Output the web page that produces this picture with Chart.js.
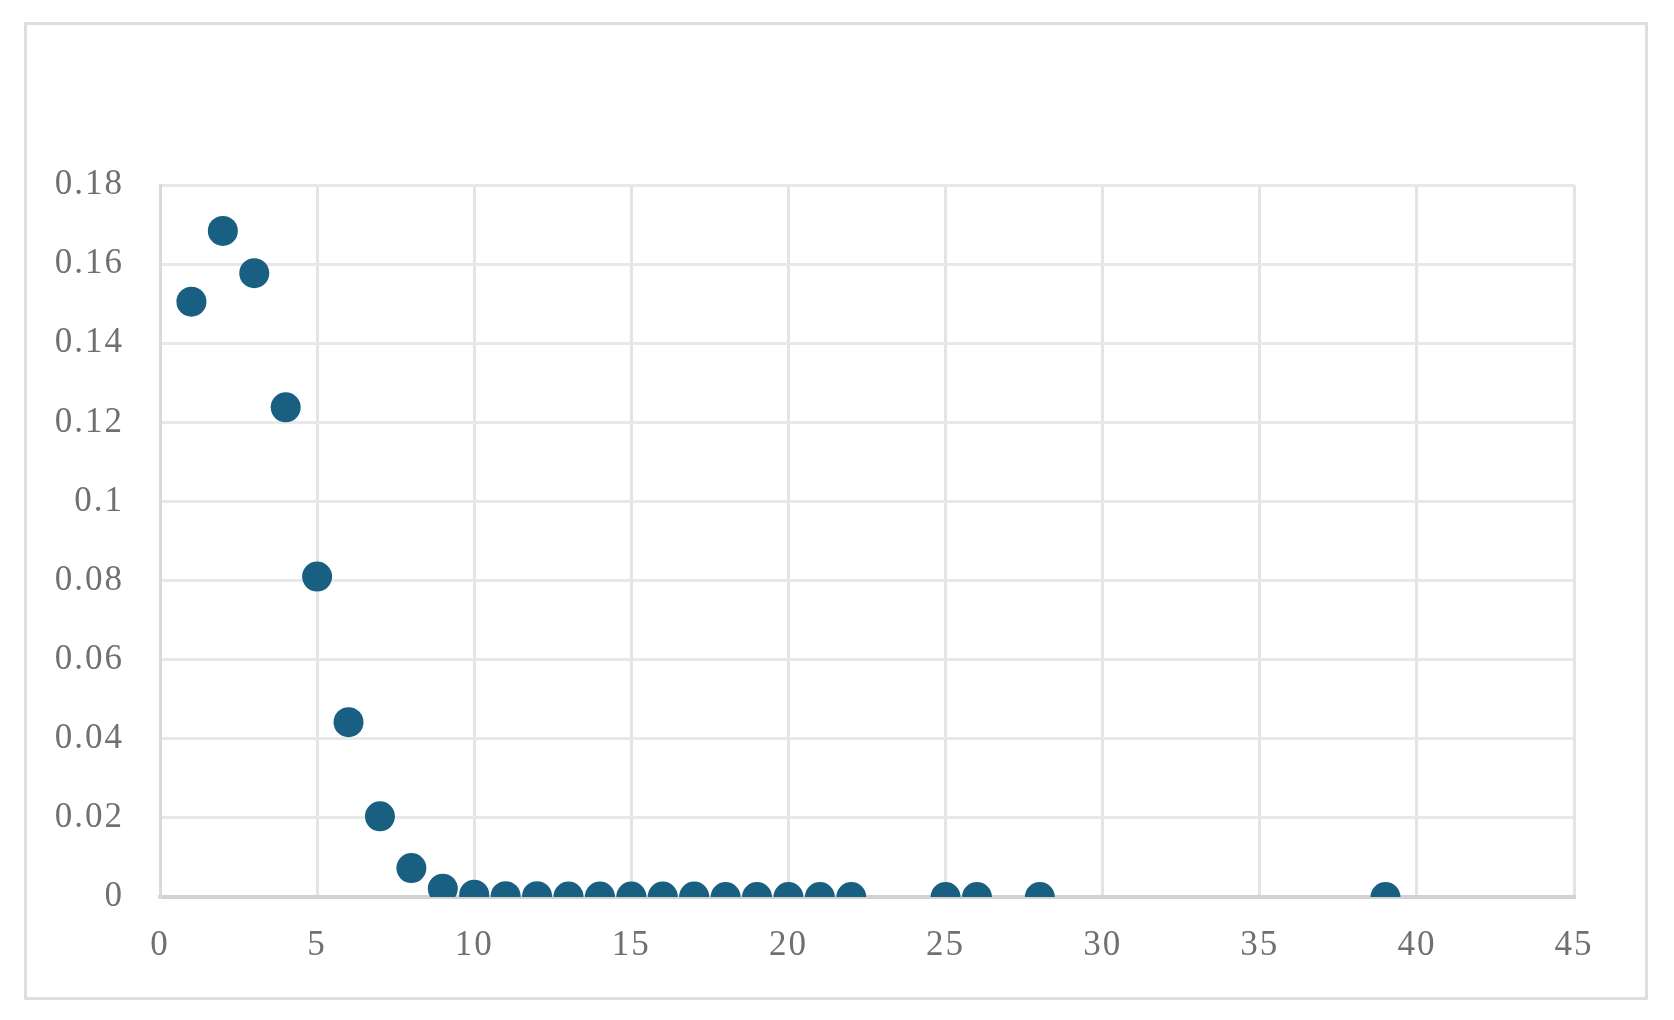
<!DOCTYPE html>
<html>
<head>
<meta charset="utf-8">
<script src="https://cdn.jsdelivr.net/npm/chart.js@4.4.1/dist/chart.umd.min.js"></script>
<style>
  html, body { margin: 0; padding: 0; background: #fff; }
  #frame {
    position: absolute; left: 24px; top: 22px;
    width: 1618px; height: 972px;
    border: 3px solid #dedede;
  }
  #wrap { position: absolute; left: 0; top: 0; width: 1674px; height: 1020px; }
</style>
</head>
<body>
<div id="frame"></div>
<div id="wrap"><canvas id="probChart" width="1674" height="1020"></canvas></div>
<script>
// observed counts (x) and their share (y)
const xValues = [1, 2, 3, 4, 5, 6, 7, 8, 9, 10, 11, 12, 13, 14, 15, 16, 17, 18, 19, 20, 21, 22, 25, 26, 28, 39];
const yValues = [0.1505, 0.1684, 0.1577, 0.1238, 0.0810, 0.0442, 0.0204, 0.0073, 0.0021, 0.0006,
                 0.0002, 0.0002, 0.0001, 0.0001, 0.0001, 0.0001, 0.0001, 0, 0, 0, 0, 0, 0, 0, 0, 0];
const xTicks = [0, 5, 10, 15, 20, 25, 30, 35, 40, 45];
const yTicks = [0, 0.02, 0.04, 0.06, 0.08, 0.1, 0.12, 0.14, 0.16, 0.18];

const points = xValues.map((x, i) => ({ x: x, y: yValues[i] }));

// the original labels are a bit spread out
const spacing = {
    id: 'spacing',
    beforeDraw: chart => { chart.ctx.letterSpacing = '2px'; }
};

const ctx = document.getElementById('probChart').getContext('2d');

const probChart = new Chart(ctx, {
    type: 'scatter',
    data: {
        datasets: [{
            label: 'share',
            data: points,
            backgroundColor: '#185f82',
            borderColor: '#185f82',
            pointRadius: 15,
            pointHoverRadius: 15,
            borderWidth: 0
        }]
    },
    options: {
        responsive: false,
        animation: false,
        layout: { padding: { left: 0, right: 100, top: 185, bottom: 0 } },
        plugins: {
            legend: { display: false },
            tooltip: { enabled: false }
        },
        scales: {
            x: {
                type: 'linear',
                min: 0,
                max: 45,
                afterBuildTicks: s => { s.ticks = xTicks.map(v => ({ value: v })); },
                afterFit: s => { s.height = 123; },
                grid: { color: '#e4e4e4', lineWidth: 3, drawTicks: false },
                border: { color: '#d2d2d2', width: 4 },
                ticks: {
                    padding: 28,
                    color: '#707070',
                    font: { family: 'Liberation Serif', size: 35 }
                }
            },
            y: {
                min: 0,
                max: 0.18,
                afterBuildTicks: s => { s.ticks = yTicks.map(v => ({ value: v })); },
                afterFit: s => { s.width = 160; },
                grid: { color: '#e8e8e8', lineWidth: 3, drawTicks: false },
                border: { color: '#dadada', width: 3 },
                ticks: {
                    padding: 36,
                    color: '#707070',
                    font: { family: 'Liberation Serif', size: 35 },
                    callback: v => String(Math.round(v * 100) / 100)
                }
            }
        }
    },
    plugins: [spacing]
});
</script>
</body>
</html>
